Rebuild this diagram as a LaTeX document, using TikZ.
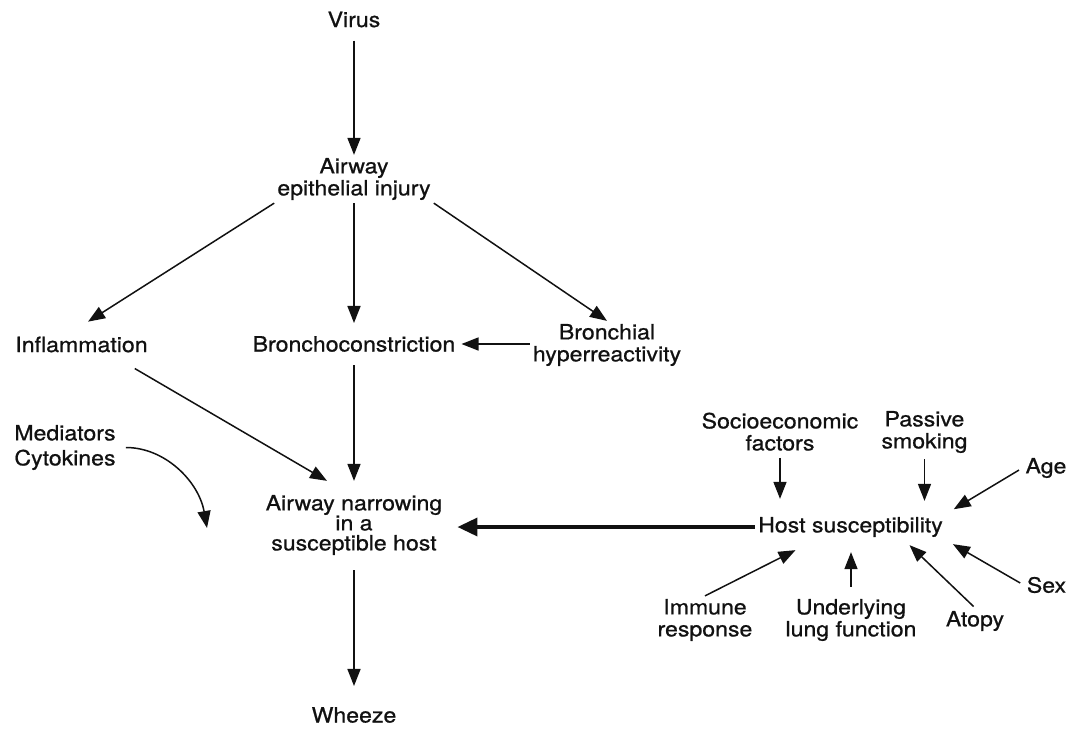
\documentclass[tikz,border=0pt]{standalone}
\usepackage{fontspec}
\setmainfont{TeX Gyre Heros}[FakeStretch=1.1, FakeBold=0.8]
\usepackage{tikz}
\usetikzlibrary{arrows.meta}
\definecolor{ink}{HTML}{111111}
\tikzset{
  lbl/.style={text=ink, font=\fontsize{21}{22}\selectfont, align=center, inner sep=3pt},
  arr/.style={draw=ink, line width=1.5pt, -{Triangle[length=17pt,width=13pt]}},
  tharr/.style={draw=ink, line width=3.6pt, -{Triangle[length=20pt,width=18pt]}}
}

\begin{document}
\begin{tikzpicture}[x=1pt, y=-1pt]
  \useasboundingbox (0,0) rectangle (1077,729);

  % left part: the chain from the virus to wheeze
  \node[lbl] (virus) at (354,19.5) {Virus};
  \node[lbl] (epi) at (354,179) {Airway\\epithelial injury};
  \node[lbl] (infl) at (81.5,344.5) {Inflammation};
  \node[lbl] (bron) at (354,344) {Bronchoconstriction};
  \node[lbl] (hyper) at (607,345) {Bronchial\\hyperreactivity};
  \node[lbl, font=\fontsize{21}{25}\selectfont] (med) at (65,447.5) {Mediators\\Cytokines};
  \node[lbl, font=\fontsize{21}{20}\selectfont] (narrow) at (354,525) {Airway narrowing\\in a\\susceptible host};
  \node[lbl] (wheeze) at (354,715) {Wheeze};
  \coordinate (medtip) at (207,528);

  % right part: host susceptibility and its factors
  \node[lbl] (host) at (850.5,527) {Host susceptibility};
  \node[lbl] (socio) at (780,431.7) {Socioeconomic\\factors};
  \node[lbl] (passive) at (924.5,432) {Passive\\smoking};
  \node[lbl] (age) at (1046,468) {Age};
  \node[lbl] (sex) at (1046.5,585) {Sex};
  \node[lbl] (atopy) at (975,621) {Atopy};
  \node[lbl] (under) at (851,620) {Underlying\\lung function};
  \node[lbl] (immune) at (705,620) {Immune\\response};

  \draw[arr, shorten <=10pt] (virus) -- (epi);
  \draw[arr, shorten >=22pt] (epi.south west) -- ([xshift=-12pt]infl.north);
  \draw[arr, shorten >=10pt] (epi) -- (bron);
  \draw[arr] (epi.south east) -- (hyper.north);
  \draw[arr, shorten >=3pt] (hyper.west |- bron) -- (bron);
  \draw[arr] ([xshift=-16pt,yshift=-13pt]infl.south east) -- ([xshift=-27pt,yshift=11pt]narrow.north);
  \draw[arr, shorten <=10pt, shorten >=11pt] (bron) -- (narrow);
  \draw[arr, shorten <=12pt, shorten >=18pt] (narrow) -- (wheeze);
  \draw[arr, shorten <=7pt] (med.east) to[out=0, in=100] (medtip);

  \draw[tharr, shorten >=12pt] (host.west) -- (host.west -| narrow.east);

  \draw[arr, shorten <=4pt, shorten >=15pt] (socio.south) -- (socio.south |- host.north);
  \draw[arr, shorten <=3pt, shorten >=13pt] (passive.south) -- (passive.south |- host.north);
  \draw[arr, shorten <=4pt, shorten >=9pt] (age.west) -- (host.north east);
  \draw[arr, shorten <=4pt, shorten >=8pt] (sex.west) -- (host.south east);
  \draw[arr, shorten <=2pt] (atopy.north) -- ([xshift=59pt,yshift=-5pt]host.south);
  \draw[arr, shorten <=9pt, shorten >=12pt] (under.north) -- (under.north |- host.south);
  \draw[arr] (immune.north) -- ([xshift=-55pt,yshift=-10pt]host.south);
\end{tikzpicture}
\end{document}
